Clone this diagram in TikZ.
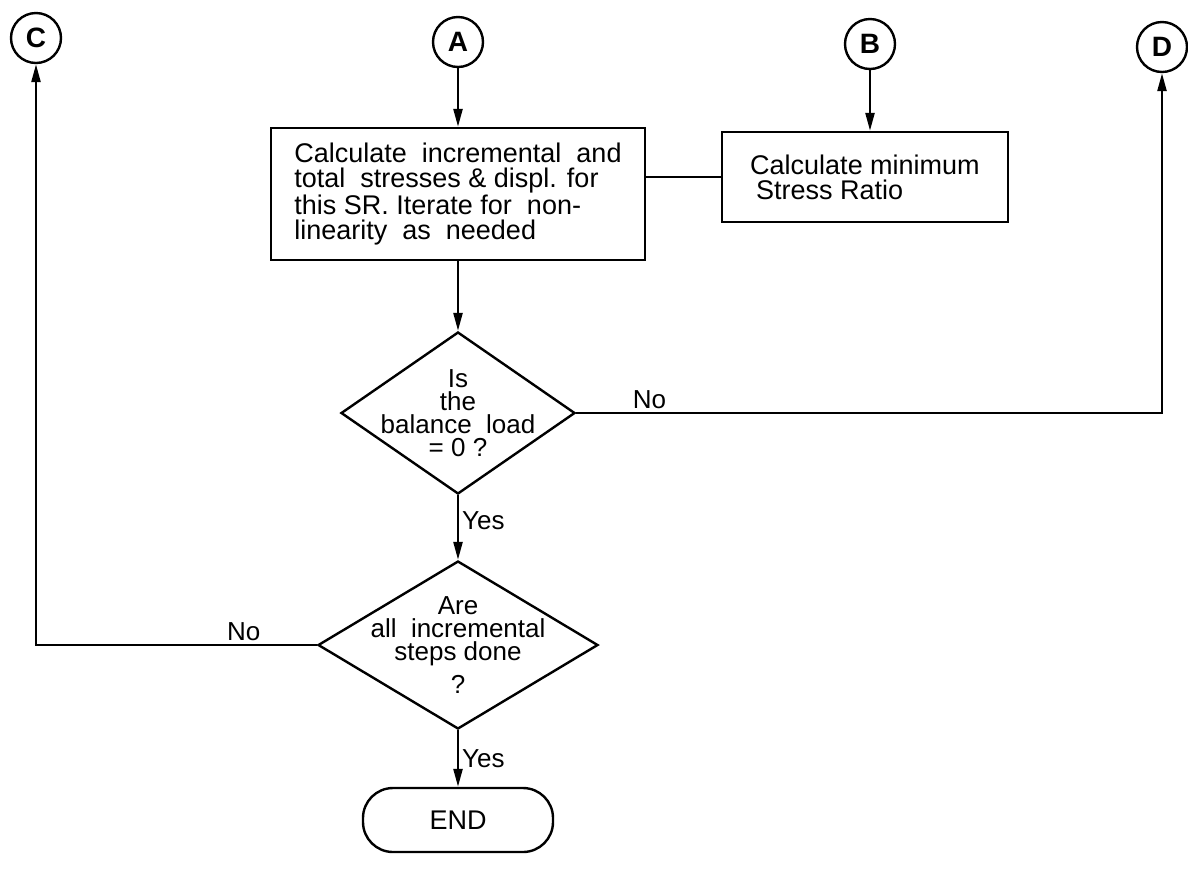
\documentclass[tikz,border=0pt]{standalone}
\usepackage{fontspec}
\setmainfont{Liberation Sans}
\usetikzlibrary{arrows.meta,shapes.geometric,positioning}
\tikzset{
  flow/.style={-{Triangle[length=9pt,width=4.5pt]}, line width=1.2pt},
  link/.style={line width=1.2pt},
  proc/.style={draw, line width=1.2pt, align=left, inner sep=0pt},
  decision/.style={diamond, draw, line width=1.2pt, inner sep=0pt},
  qtext/.style={align=center, font=\fontsize{13}{11.5}\selectfont},
  term/.style={draw, line width=1.2pt, rounded corners=15pt, minimum width=95pt, minimum height=32pt},
  conn/.style={circle, draw, line width=1.2pt, minimum size=25pt, inner sep=0pt, font=\fontsize{14}{14}\selectfont\bfseries},
  lbl/.style={font=\fontsize{13}{13}\selectfont, inner sep=1.5pt},
}

\begin{document}
\begin{tikzpicture}[x=0.5pt, y=-0.5pt, font=\fontsize{13.5}{12.5}\selectfont]
  \useasboundingbox (0,0) rectangle (1188,869);

  % Off-page connectors
  \node[conn] (C) at (36,38) {C};
  \node[conn] (A) at (458,42) {A};
  \node[conn] (B) at (870,44) {B};
  \node[conn] (D) at (1162,47) {D};

  % Process boxes
  \node[proc, minimum width=187pt, minimum height=66pt] (incr) at (458,194)
    {Calculate\ \ incremental\ \ and\\total\ \ stresses \& displ. for\\this SR. Iterate for\ \ non-\\linearity\ \ as\ \ needed};
  \node[proc, minimum width=143pt, minimum height=45pt] (minsr) at (865,177)
    {Calculate minimum\\\hspace{3pt}Stress Ratio};

  % Decisions
  \node[decision, minimum width=117pt, minimum height=81pt,
        label={[qtext]center:{Is\\the\\balance\ \ load\\= 0 ?}}] (bal) at (458,413) {};
  \node[decision, minimum width=140pt, minimum height=84pt,
        label={[qtext]center:{Are\\all\ \ incremental\\steps done\\[4pt]?}}] (steps) at (458,645) {};

  % End
  \node[term] (stop) at (458,820) {END};

  % Flow lines
  \draw[flow] (A.south) -- (A.south |- incr.north);
  \draw[flow] (B.south) -- (B.south |- minsr.north);
  \draw[link] (incr.east |- minsr.west) -- (minsr.west);
  \draw[flow] (incr.south) -- (bal.north);
  \draw[flow] (bal.east) -- node[lbl, above, pos=0.125] {No} (D.south |- bal.east) -- (D.south);
  \draw[flow] (bal.south) -- node[lbl, right, pos=0.4] {Yes} (steps.north);
  \draw[flow] (steps.west) -- node[lbl, above, pos=0.26] {No} (C.south |- steps.west) -- (C.south);
  \draw[flow] (steps.south) -- node[lbl, right, pos=0.5] {Yes} (stop.north);
\end{tikzpicture}
\end{document}
